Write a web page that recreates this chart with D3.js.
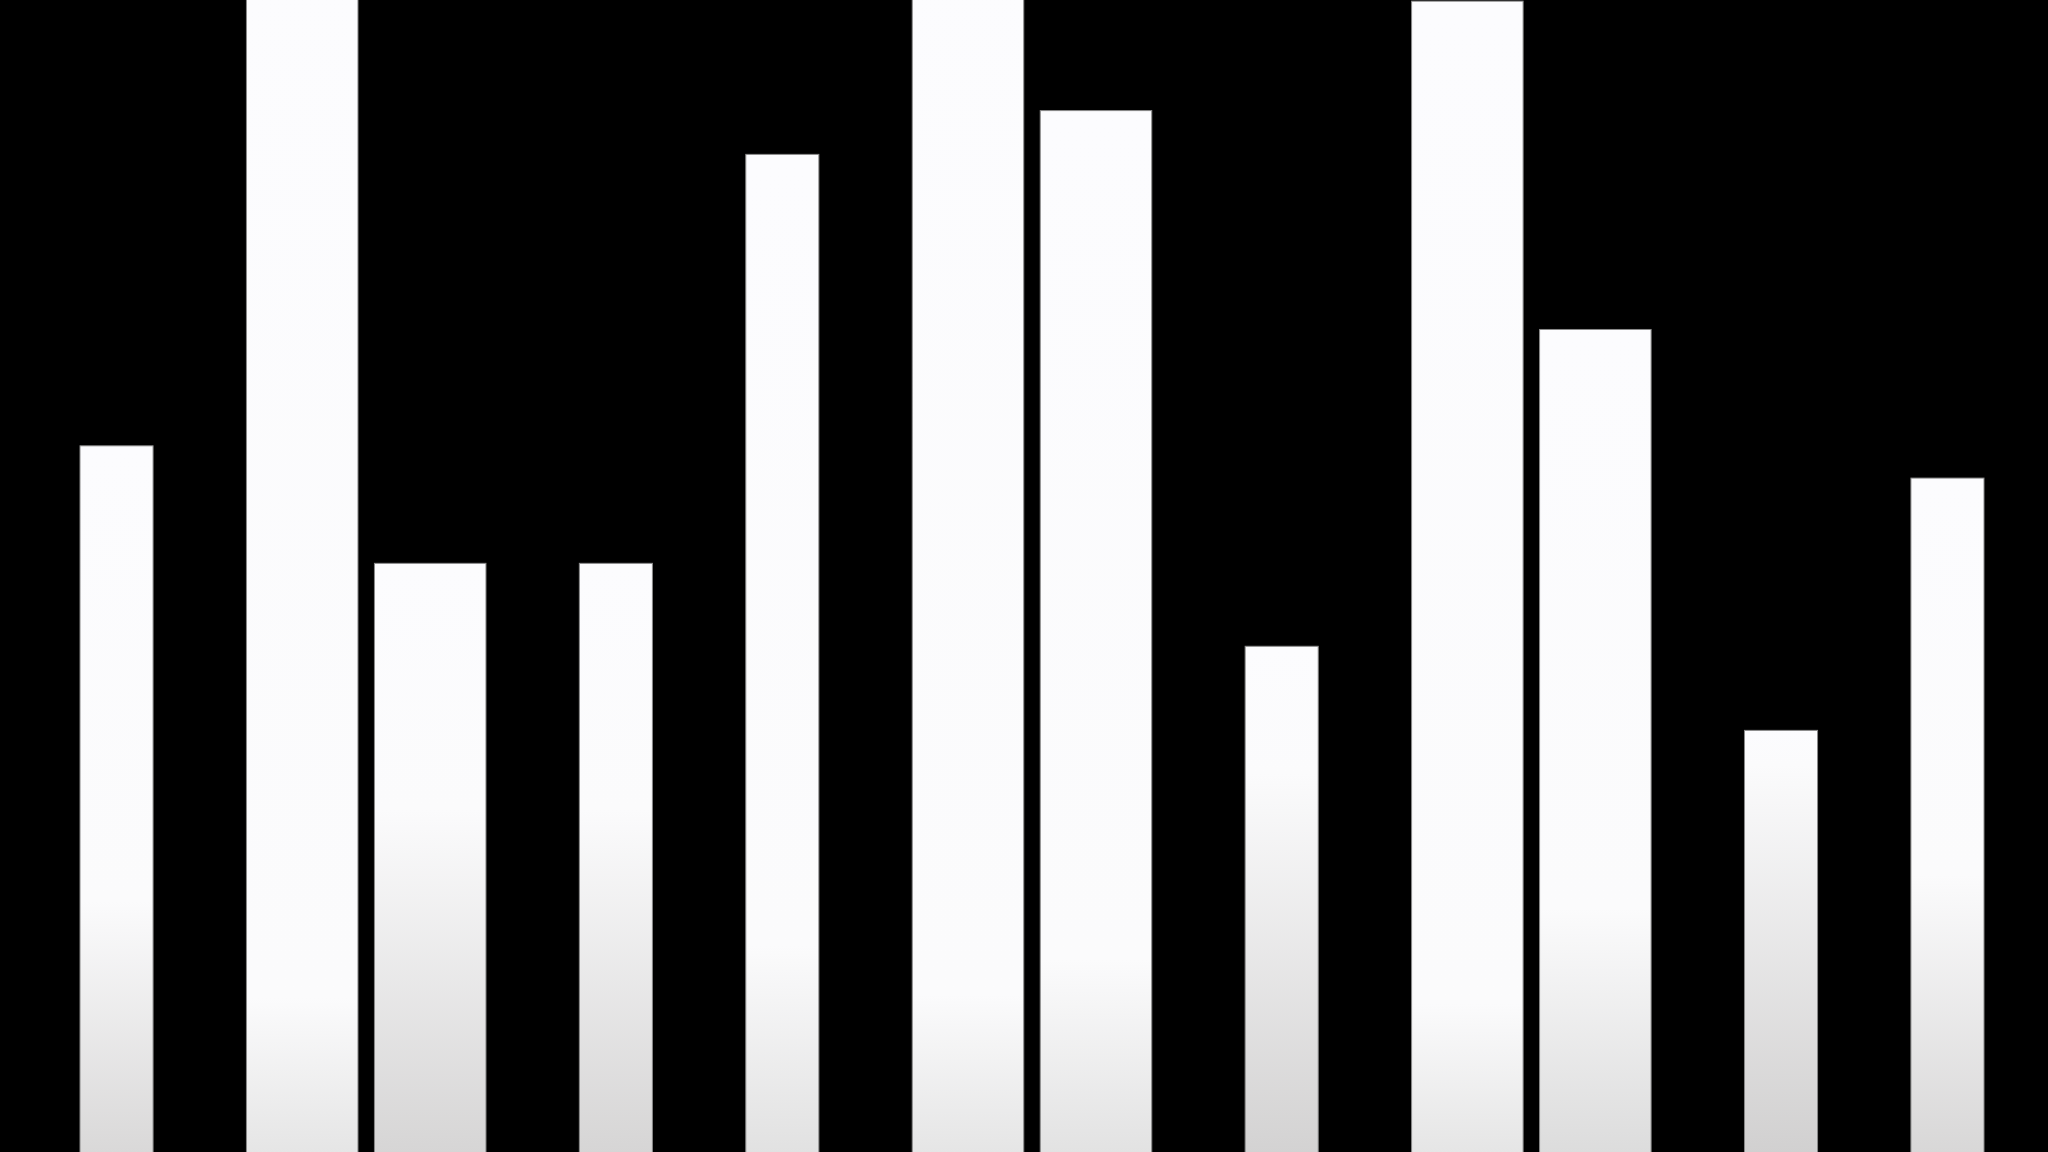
<!DOCTYPE html>
<html>
<head>
<meta charset="utf-8">
<script src="https://cdn.jsdelivr.net/npm/d3@7"></script>
<style>
  html, body { margin: 0; padding: 0; background: #000; overflow: hidden; }
  svg { display: block; }
</style>
</head>
<body>
<svg id="chart" width="2048" height="1152"></svg>
<script>
// ---- data ----
const categories = ["A", "B", "C", "D", "E", "F", "G", "H", "I", "J", "K", "L"];
const series = ["narrow", "wide", "wide", "narrow", "narrow", "wide", "wide", "narrow", "wide", "wide", "narrow", "narrow"];
const values = [61.3, 104, 51.1, 51.1, 86.6, 106, 90.4, 43.9, 99.9, 71.4, 36.6, 58.5];
const yDomain = [0, 100];

// ---- layout ----
const W = 2048, H = 1152;
const svg = d3.select("#chart");
const defs = svg.append("defs");
defs.append("clipPath").attr("id", "plotClip")
  .append("rect").attr("x", 0).attr("y", 0).attr("width", W).attr("height", H);

const x = d3.scaleBand().domain(categories).range([80, 1984]).paddingInner(0.561).paddingOuter(0);
const y = d3.scaleLinear().domain(yDomain).range([H, 0]);

// pair wide bars
const bars = categories.map((c, i) => ({ cat: c, value: values[i], kind: series[i], idx: i }));
let pairOpen = false;
bars.forEach((b, i) => {
  if (b.kind === "wide") {
    if (!pairOpen) { b.sub = 0; b.first = i; pairOpen = true; }
    else { b.sub = 1; b.first = i - 1; pairOpen = false; }
  } else { pairOpen = false; }
});

function barX(b) {
  if (b.kind !== "wide") return [x(b.cat), x.bandwidth()];
  const a = x(categories[b.first]);
  const z = x(categories[b.first + 1]) + x.bandwidth();
  const inner = d3.scaleBand().domain([0, 1]).range([a, z]).paddingInner(0.1287).paddingOuter(0);
  return [inner(b.sub), inner.bandwidth()];
}

// gradient styling depends on bar pixel height
const endColor = d3.scaleLinear().domain([420, 1152]).range(["#d1d0d0", "#e5e5e5"]).clamp(true);
const whiteStop = d3.scaleLinear().domain([420, 700, 1152]).range([0.08, 0.64, 0.87]).clamp(true);

bars.forEach(b => {
  const h = y(0) - y(b.value);
  const g = defs.append("linearGradient").attr("id", "grad" + b.idx)
    .attr("x1", 0).attr("y1", 0).attr("x2", 0).attr("y2", 1);
  g.append("stop").attr("offset", 0).attr("stop-color", "#fcfcfe");
  g.append("stop").attr("offset", whiteStop(h)).attr("stop-color", "#fbfbfc");
  g.append("stop").attr("offset", 1).attr("stop-color", endColor(h));
});

svg.append("g").attr("clip-path", "url(#plotClip)")
  .selectAll("rect.bar").data(bars).join("rect")
  .attr("class", "bar")
  .attr("x", d => barX(d)[0])
  .attr("width", d => barX(d)[1])
  .attr("y", d => y(d.value))
  .attr("height", d => y(0) - y(d.value) + 2)
  .attr("fill", d => "url(#grad" + d.idx + ")")
  .attr("stroke", "#8a8a8a")
  .attr("stroke-width", 1);
</script>
</body>
</html>
